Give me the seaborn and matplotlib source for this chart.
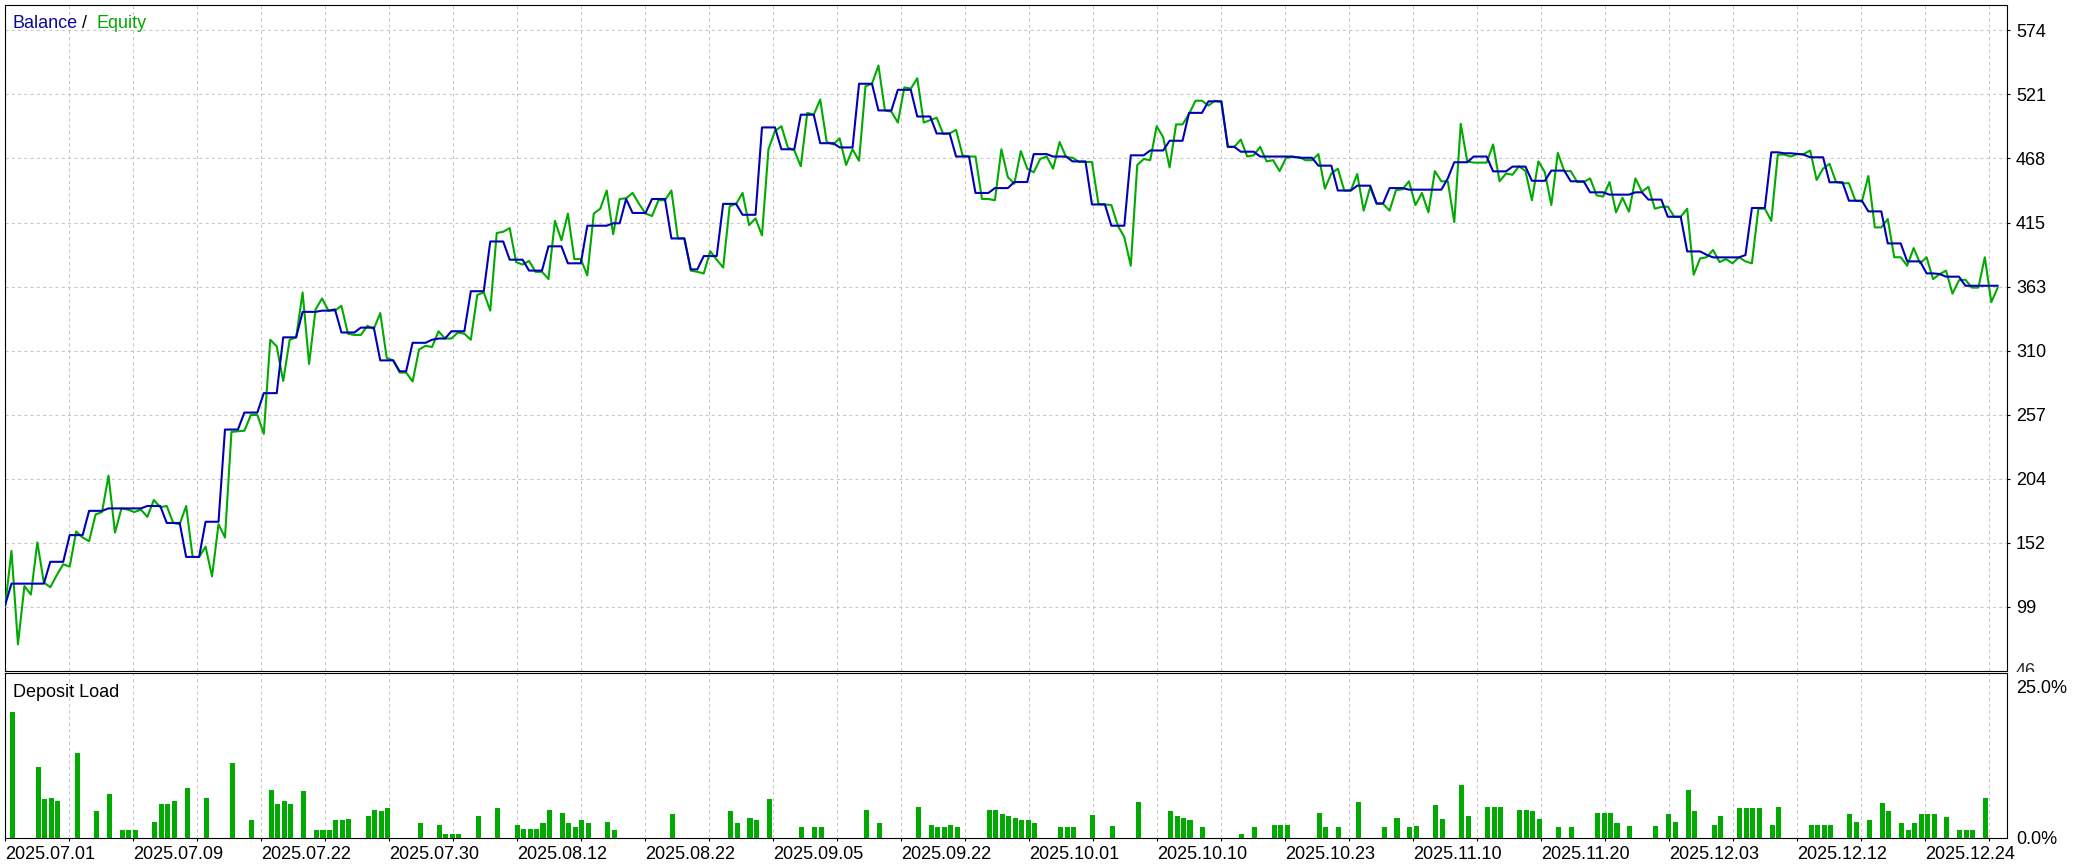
import numpy as np
import pandas as pd
import matplotlib
matplotlib.use("Agg")
import matplotlib.pyplot as plt
import seaborn as sns
from matplotlib.transforms import Bbox

# balance / equity per deal
balance = [
    100, 118, 118, 118, 118, 118, 118, 136, 136, 136, 158, 158, 158, 178, 178,
    178, 180, 180, 180, 180, 180, 180, 182, 182, 182, 168, 168, 168, 140, 140,
    140, 169, 169, 169, 245, 245, 245, 259, 259, 259, 275, 275, 275, 321, 321,
    321, 342, 342, 342, 343, 343, 344, 325, 325, 325, 329, 329, 329, 302, 302,
    302, 293, 293, 316.5, 316.5, 316.5, 319, 320, 320, 326, 326, 326, 359, 359, 359,
    400, 400, 400, 385, 385, 385, 376, 376, 376, 396, 396, 396, 382, 382, 382,
    413, 413, 413, 413, 415, 415, 435, 423.5, 423.5, 423.5, 435, 435, 435, 402.5, 402.5,
    402.5, 377, 377, 388, 388, 388, 431, 431, 431, 422, 422, 422, 494, 494, 494,
    476, 476, 476, 504.5, 504.5, 504.5, 481, 481, 481, 477.5, 477.5, 477.5, 530, 530, 530,
    508, 508, 508, 525, 525, 525, 503, 503, 503, 489, 489, 489, 470, 470, 470,
    440, 440, 440, 444, 444, 444, 449, 449, 449, 472, 472, 472, 470, 470, 470,
    466, 466, 466, 430.5, 430.5, 430.5, 413, 413, 413, 471, 471, 471, 475, 475, 475,
    483, 483, 483, 506, 506, 506, 515.5, 515.5, 515.5, 478, 478, 474, 474, 474, 470,
    470, 470, 470, 470, 470, 469, 469, 469, 462.5, 462.5, 462.5, 442, 442, 442, 446,
    446, 446, 431.4, 431.4, 444, 444, 444, 442.7, 442.7, 442.7, 442.7, 442.7, 442.7, 452, 465.3,
    465.3, 465.3, 470, 470, 470, 457.8, 457.8, 457.8, 461.7, 461.7, 461.7, 450, 450, 450, 458.4,
    458.4, 458.4, 449.6, 449.6, 449.6, 440.5, 440.5, 440.5, 438.6, 438.6, 438.6, 438.6, 440.5, 440.5, 434.5,
    434.5, 434.5, 420.4, 420.4, 420.4, 391.8, 391.8, 391.8, 389, 386.9, 386.9, 386.9, 386.9, 386.9, 388.8,
    427.6, 427.6, 427.6, 473.5, 473.5, 472.7, 472.7, 472.2, 471.6, 469.4, 469.4, 469.4, 448.8, 448.8, 448.8,
    433.6, 433.6, 433.6, 424.8, 424.8, 424.8, 398.4, 398.4, 398.4, 383.6, 383.6, 383.6, 373.7, 373.7, 373.2,
    371, 371, 371, 363.5, 363.5, 363.5, 363.5, 363.5, 363.5,
]
equity = [
    98.5, 145, 68, 116, 109, 152, 119, 115, 125, 134, 132, 161, 156, 153, 175,
    177, 207, 160, 180, 179, 177, 179, 173, 187, 181, 182, 168, 167, 182, 140,
    140, 148.5, 124, 167, 156, 243, 243.6, 244, 257, 257, 241.5, 319, 313.5, 285, 319,
    321, 358, 299, 344, 353, 343, 343, 347, 324, 323, 323, 330.5, 328, 341, 304,
    302, 292, 292, 284.6, 311, 314, 313, 326, 320, 320, 325, 324, 319, 356, 358,
    343, 407, 408, 411, 383, 381, 384, 375, 375, 369, 417, 401, 423, 385.5, 385.5,
    372, 423, 427, 442, 406, 435, 435.6, 440, 431, 423, 421, 434, 434, 442, 402.5,
    402.5, 376, 375, 373.6, 392, 385, 378.5, 429, 431, 440, 413.5, 419, 405, 476, 491,
    495, 477.5, 475, 462, 506, 504.5, 517, 482, 480, 485, 463, 476, 466.5, 528, 530,
    545, 508, 507, 498, 527, 526, 534.5, 498, 500, 502, 488.6, 489, 492, 471, 470,
    470, 435, 435, 434, 476, 453, 447.6, 474.5, 460, 457, 468, 470, 460, 482, 469.6,
    469, 465.5, 465.5, 465.5, 431, 430.5, 430, 413, 403.6, 380, 463, 468, 467, 495, 486,
    461, 496.5, 496.5, 505, 516, 516, 512, 516, 515, 478, 478, 484, 470, 471, 478,
    466, 467, 458, 469, 469.6, 469.6, 467, 467, 472, 443.5, 456, 460, 442, 442, 455.6,
    425.4, 444.6, 431, 431, 425.4, 442.4, 443, 449.6, 430, 440, 424, 458, 449.6, 449.6, 416,
    497, 466, 465, 465, 465, 480, 449.6, 456, 455, 462, 458, 434, 466, 457, 430,
    473, 458, 458, 449, 449, 452, 438, 437, 449, 424, 436, 424.5, 452, 441, 445,
    427, 428.5, 428.7, 420.4, 420.4, 427, 372.6, 386, 387, 393, 383, 385.5, 382, 387, 383.6,
    382, 427, 427, 417, 471.6, 471.6, 470, 472, 472, 475, 450.7, 460, 464, 449, 448,
    448, 433.6, 433, 454, 411.6, 411.6, 418.5, 387, 387, 380, 394.6, 382, 387, 369, 373,
    376, 357, 368, 368.5, 362, 362, 387, 350, 362,
]
# deposit load (%) at the deals where it is non-zero
load_idx = [1, 5, 6, 7, 8, 11, 14, 16, 18, 19, 20, 23, 24, 25, 26, 28, 31, 35, 38,
            41, 42, 43, 44, 46, 48, 49, 50, 51, 52, 53, 56, 57, 58, 59, 64, 67, 68,
            69, 70, 73, 76, 79, 80, 81, 82, 83, 84, 86, 87, 88, 89, 90, 93, 94,
            103, 112, 113, 115, 116, 118, 123, 125, 126, 133, 135, 141, 143, 144,
            145, 146, 147, 152, 153, 154, 155, 156, 157, 158, 159, 163, 164, 165,
            168, 171, 175, 180, 181, 182, 183, 185, 191, 193, 196, 197, 198, 203,
            204, 206, 209, 213, 215, 217, 218, 221, 222, 225, 226, 229, 230, 231,
            234, 235, 236, 237, 240, 242, 246, 247, 248, 249, 251, 255, 257, 258,
            260, 261, 264, 265, 268, 269, 270, 271, 273, 274, 279, 280, 281, 282,
            285, 286, 288, 290, 291, 293, 294, 295, 296, 297, 298, 300, 302, 303,
            304, 306]
load_pct = [20.9, 11.7, 6.4, 6.6, 6.2, 14.1, 4.4, 7.2, 1.4, 1.4, 1.4, 2.7, 5.6, 5.6,
            6.1, 8.2, 6.7, 12.4, 2.9, 7.9, 5.6, 6.2, 5.6, 7.7, 1.4, 1.4, 1.4, 2.9,
            2.9, 3.1, 3.7, 4.6, 4.4, 4.9, 2.4, 2.2, 0.7, 0.7, 0.7, 3.6, 4.9, 2.2,
            1.5, 1.5, 1.5, 2.4, 4.7, 4.2, 2.4, 1.8, 3.0, 2.5, 2.7, 1.3,
            4.0, 4.4, 2.4, 3.3, 2.9, 6.4, 1.8, 1.8, 1.8, 4.7, 2.4, 5.1, 2.2, 1.8,
            1.8, 2.2, 1.8, 4.7, 4.7, 4.0, 3.6, 3.3, 2.9, 2.9, 2.4, 1.8, 1.8, 1.8,
            3.8, 2.0, 6.0, 4.4, 3.6, 3.3, 2.9, 1.8, 0.7, 1.8, 2.2, 2.2, 2.2, 4.2,
            1.8, 1.8, 6.0, 1.8, 3.3, 1.8, 2.0, 5.5, 3.1, 8.7, 3.6, 5.1, 5.1, 5.1,
            4.7, 4.7, 4.4, 3.1, 1.8, 1.8, 4.2, 4.2, 4.2, 2.4, 2.0, 2.0, 4.0, 2.7,
            8.0, 4.4, 2.2, 3.6, 4.9, 4.9, 4.9, 4.9, 2.2, 5.1, 2.2, 2.2, 2.2, 2.2,
            4.0, 2.7, 2.9, 5.8, 4.4, 2.5, 1.4, 2.5, 4.0, 3.9, 4.0, 3.4, 1.4, 1.4,
            1.4, 6.6]

date_labels = ["2025.07.01", "2025.07.09", "2025.07.22", "2025.07.30", "2025.08.12",
               "2025.08.22", "2025.09.05", "2025.09.22", "2025.10.01", "2025.10.10",
               "2025.10.23", "2025.11.10", "2025.11.20", "2025.12.03", "2025.12.12",
               "2025.12.24"]
price_ticks = [98.8, 151.6, 204.4, 257.2, 310.0, 362.8, 415.6, 468.4, 521.2, 574.0]
price_labels = ["99", "152", "204", "257", "310", "363", "415", "468", "521", "574"]

BLUE = "#0000b4"
GREEN = "#00aa00"
GRID = "#c8c8c8"

sns.set_theme(style="white")
plt.rcParams['font.family'] = ['Liberation Sans', 'DejaVu Sans']
plt.rcParams['font.size'] = 13

W, H = 2092, 867
fig = plt.figure(figsize=(W / 100, H / 100), dpi=100)
ax = fig.add_axes([5 / W, 1 - 671 / H, 2002 / W, 666 / H])
ax2 = fig.add_axes([5 / W, 1 - 838 / H, 2002 / W, 165 / H], sharex=ax)

step = 6.47  # pixels per deal
df = pd.DataFrame({"deal": np.arange(len(balance)), "balance": balance, "equity": equity})
sns.lineplot(data=df, x="deal", y="equity", ax=ax, color=GREEN, lw=1.5, zorder=3)
sns.lineplot(data=df, x="deal", y="balance", ax=ax, color=BLUE, lw=1.5, zorder=4)
ax.set_xlabel("")
ax.set_ylabel("")

ax2.bar(np.array(load_idx) + 0.15, load_pct, width=0.78, color=GREEN, linewidth=0, zorder=3)

grid_x = np.arange(0, 2002, 64) / step
ax.set_xlim(0, 2002 / step)
ax.set_ylim(46, 594.9)
ax2.set_ylim(0, 27.3)

for a in (ax, ax2):
    for s in a.spines.values():
        s.set_color("black")
        s.set_linewidth(0.8)
    a.set_facecolor("white")

ax.set_xticks(grid_x)
ax.grid(True, axis="both", ls=(0, (3, 3)), color=GRID, lw=0.75)
ax.tick_params(axis="x", length=0, labelbottom=False)
ax.yaxis.tick_right()
ax.set_yticks(price_ticks)
ax.set_yticklabels(price_labels)
ax.tick_params(axis="y", right=True, length=2.5, width=0.8, pad=4, labelsize=13, colors="black")

ax2.grid(True, axis="x", ls=(0, (3, 3)), color=GRID, lw=0.75)
ax2.grid(False, axis="y")
ax2.yaxis.tick_right()
ax2.set_yticks([0, 25])
ax2.set_yticklabels(["0.0%", "25.0%"])
ax2.tick_params(axis="y", right=True, length=0, pad=6.5, labelsize=13, colors="black")
xlabels = []
for k in range(len(grid_x)):
    xlabels.append(date_labels[k // 2] if k % 2 == 0 else "")
ax2.set_xticks(grid_x)
ax2.set_xticklabels(xlabels)
ax2.tick_params(axis="x", bottom=True, length=2.5, width=0.8, pad=3.5, labelsize=13, colors="black")
for lab in ax2.get_xticklabels():
    lab.set_ha("left")

# lowest price label, cut off by the lower panel
t46 = fig.text(2016 / W, 1 - 671 / H, "46", fontsize=13, va="center", ha="left")
t46.set_clip_on(True)
t46.set_clip_box(Bbox([[2008, H - 672], [W, H]]))

fig.text(12.7 / W, 1 - 27.7 / H, "Balance", color="#0a0a96", fontsize=13, va="baseline")
fig.text(82 / W, 1 - 27.7 / H, "/", color="black", fontsize=13, va="baseline")
fig.text(96.7 / W, 1 - 27.7 / H, "Equity", color=GREEN, fontsize=13, va="baseline")
fig.text(12.7 / W, 1 - 696.7 / H, "Deposit Load", color="black", fontsize=13, va="baseline")

fig.savefig("out.png", dpi=100, facecolor="white")
